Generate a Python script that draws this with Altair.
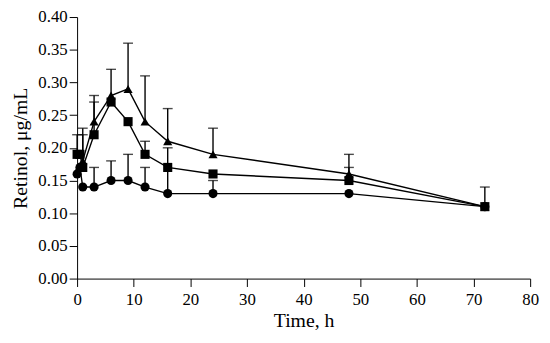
import altair as alt
import pandas as pd

time = [0, 0.5, 1, 3, 6, 9, 12, 16, 24, 48, 72]
circle = [0.16, 0.17, 0.14, 0.14, 0.15, 0.15, 0.14, 0.13, 0.13, 0.13, 0.11]
circle_up = [None, None, None, 0.17, 0.18, 0.19, 0.17, 0.20, 0.15, None, None]
square = [0.19, 0.19, 0.17, 0.22, 0.27, 0.24, 0.19, 0.17, 0.16, 0.15, 0.11]
square_up = [0.22, None, 0.22, 0.27, None, None, 0.21, None, None, 0.17, None]
triangle = [0.165, 0.17, 0.18, 0.24, 0.28, 0.29, 0.24, 0.21, 0.19, 0.16, 0.11]
triangle_up = [None, None, 0.23, 0.28, 0.32, 0.36, 0.31, 0.26, 0.23, 0.19, 0.14]
x_ticks = [0, 10, 20, 30, 40, 50, 60, 70, 80]
y_ticks = [0.0, 0.05, 0.10, 0.15, 0.20, 0.25, 0.30, 0.35, 0.40]

rows = []
for name, vals, ups in [("circle", circle, circle_up),
                        ("square", square, square_up),
                        ("triangle-up", triangle, triangle_up)]:
    for t, v, u in zip(time, vals, ups):
        rows.append({"t": t, "v": v, "up": u, "s": name})
df = pd.DataFrame(rows)
err = df.dropna(subset=["up"])

font = "Liberation Serif"
xs = alt.Scale(domain=[0, 80], nice=False, padding=0, zero=False)
ys = alt.Scale(domain=[0, 0.40], nice=False, padding=0)

xax = alt.Axis(values=x_ticks, title="Time, h", grid=False,
               labelFont=font, labelFontSize=17, titleFont=font, titleFontSize=20,
               titleFontWeight="normal", labelColor="black", titleColor="black",
               domainColor="black", tickColor="black", tickSize=8, labelPadding=5,
               titlePadding=4, labelFlush=False, labelOverlap=False)
yax = alt.Axis(values=y_ticks, format=".2f", title="Retinol, μg/mL",
               grid=False, labelFont=font, labelFontSize=17, titleFont=font,
               titleFontSize=20, titleFontWeight="normal", labelColor="black",
               titleColor="black", domainColor="black", tickColor="black", tickSize=8,
               labelPadding=2, titlePadding=8, labelFlush=False, labelOverlap=False)

X = alt.X("t:Q", scale=xs, axis=xax)
Y = alt.Y("v:Q", scale=ys, axis=yax)

lines = alt.Chart(df).mark_line(color="black", strokeWidth=1.4).encode(
    x=X, y=Y, detail="s:N",
)

rules = alt.Chart(err).mark_rule(color="black", strokeWidth=1.4).encode(
    x=X, y=Y, y2="up:Q"
)
caps = alt.Chart(err).mark_tick(color="black", orient="horizontal", size=10,
                                thickness=1.4).encode(
    x=X, y=alt.Y("up:Q", scale=ys, axis=yax))

points = alt.Chart(df).mark_point(filled=True, color="black", opacity=1).encode(
    x=X, y=Y,
    shape=alt.Shape("s:N", scale=alt.Scale(domain=["circle", "square", "triangle-up"],
                                           range=["circle", "square", "triangle-up"]),
                    legend=None),
    size=alt.Size("s:N", scale=alt.Scale(domain=["circle", "square", "triangle-up"],
                                         range=[85, 85, 115]), legend=None),
)

chart = alt.layer(lines, rules, caps, points).properties(
    width=459, height=265,
    autosize=alt.AutoSizeParams(type="none"),
    padding={"left": 70, "top": 7, "right": 12, "bottom": 55},
).configure_view(stroke=None).configure_axis(labelFont=font, titleFont=font)

chart.save("out.html", embed_options={"renderer": "svg", "actions": False})
